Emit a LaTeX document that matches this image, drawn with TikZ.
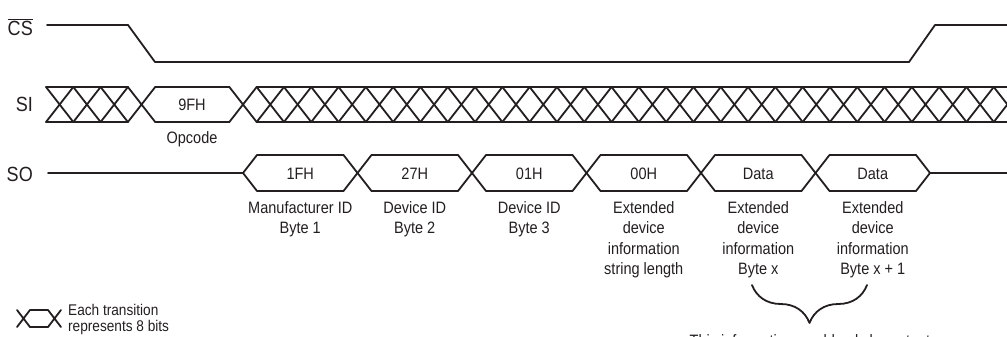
\documentclass[tikz,border=0pt]{standalone}
\usepackage{fontspec}
\setmainfont{Liberation Sans}[FakeStretch=0.88]
\usepackage{xcolor}
\usepackage{tikz}
\definecolor{wire}{RGB}{35,31,32}
\usetikzlibrary{decorations.pathreplacing}

\begin{document}
\begin{tikzpicture}[x=1pt, y=-1pt,
    sig/.style={line width=1.8pt, color=wire, line join=round, line cap=round},
    pin/.style={anchor=east, inner sep=0pt, text=wire, font=\fontsize{20.5}{22}\selectfont},
    hexval/.style={inner sep=0pt, text=wire, font=\fontsize{16.5}{20}\selectfont},
    field/.style={anchor=north, align=center, inner sep=0pt, text=wire, font=\fontsize{16.5}{20.5}\selectfont},
    legend/.style={anchor=base west, align=left, inner sep=0pt, text=wire, font=\fontsize{15.5}{16}\selectfont}
]
    \useasboundingbox (0,0) rectangle (1007,337);
    \clip (0,0) rectangle (1007,337);

    % CS
    \node[pin] (cs) at (33,27) {$\overline{\mbox{CS}}$};
    \draw[sig] (47,25) -- (128,25) -- (155,62) -- (909,62) -- (935,25) -- (1007,25);

    % SI
    \node[pin] (si) at (33,104) {SI};
    \draw[sig] (46,87) -- (128,87) (46,122) -- (128,122);
    \foreach \k in {0,...,3} {
        \pgfmathsetmacro\c{59.65+27.3*\k}
        \draw[sig] (\c-13.65,87) -- (\c+13.65,122) (\c-13.65,122) -- (\c+13.65,87);
    }
    \draw[sig] (155.2,87) -- (229.35,87) (155.2,122) -- (229.35,122);
    \node[hexval] (opc) at (192,105) {9FH};
    \node[field, anchor=base] (opcl) at (192,143) {Opcode};
    \draw[sig] (256.65,87) -- (1007,87) (256.65,122) -- (1007,122);
    \foreach \k in {0,...,28} {
        \pgfmathsetmacro\c{243+27.3*\k}
        \draw[sig] (\c-13.65,87) -- (\c+13.65,122) (\c-13.65,122) -- (\c+13.65,87);
    }

    % SO
    \node[pin] (so) at (33,174) {SO};
    \draw[sig] (48,173) -- (243,173);
    \foreach \k in {0,...,5} {
        \pgfmathsetmacro\a{243+114.5*\k}
        \pgfmathsetmacro\b{\a+114.5}
        \draw[sig] (\a,173) -- (\a+14,155) -- (\b-14,155) -- (\b,173)
                   -- (\b-14,191) -- (\a+14,191) -- cycle;
    }
    \draw[sig] (930,173) -- (1007,173);
    \foreach \v/\d [count=\k from 0] in {
        1FH/{Manufacturer ID\\Byte 1},
        27H/{Device ID\\Byte 2},
        01H/{Device ID\\Byte 3},
        00H/{Extended\\device\\information\\string length},
        Data/{Extended\\device\\information\\Byte x},
        Data/{Extended\\device\\information\\Byte x + 1}} {
        \node[hexval] (val\k) at (300.25+114.5*\k,174) {\v};
        \node[field] (desc\k) at (300.25+114.5*\k,201) {\d};
    }

    % brace
    \coordinate (bl) at (752,285);
    \coordinate (br) at (867,285);
    \draw[sig, decorate, decoration={brace, mirror, amplitude=38pt}] (bl) -- (br);
    \node[field, anchor=base] (note) at (810,346) {This information would only be output};

    % legend
    \draw[sig] (17,310) -- (30,327) -- (48,327) -- (61,310)
               (17,327) -- (30,310) -- (48,310) -- (61,327);
    \node[legend] (key) at (68,331) {Each transition\\represents 8 bits};
\end{tikzpicture}
\end{document}
